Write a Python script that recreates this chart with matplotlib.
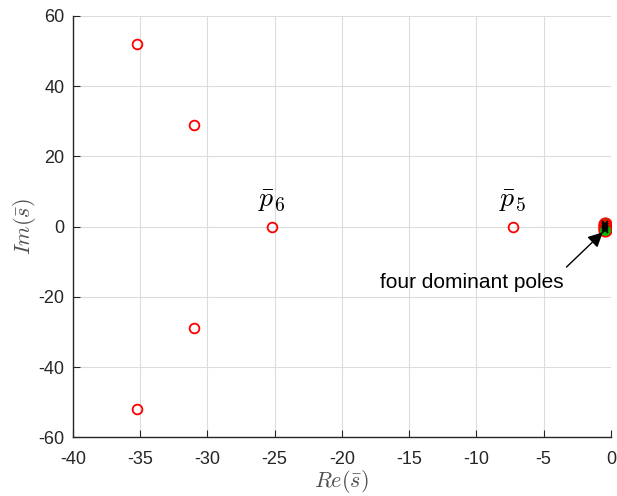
import numpy as np
import matplotlib
matplotlib.use('Agg')
import matplotlib.pyplot as plt

################################## DATA ##################################

# other (non-dominant) poles
pole_re = [-35.2, -31.0, -25.2, -7.3, -31.0, -35.2]
pole_im = [52.0, 28.8, 0.0, 0.0, -28.8, -52.0]

# four dominant poles clustered near the origin
dom_re = [-0.45, -0.45, -0.45, -0.45]
dom_im = [0.9, 0.3, -0.3, -0.9]

# labelled poles
lab_text = [r'$\bar{p}_6$', r'$\bar{p}_5$']
lab_re = [-25.2, -7.3]
lab_im = [0.0, 0.0]

################################## PLOT ##################################

plt.rcParams['font.family'] = ['Liberation Sans', 'DejaVu Sans']
plt.rcParams['mathtext.fontset'] = 'cm'
plt.rcParams['axes.unicode_minus'] = False

fig = plt.figure(figsize=(6.17, 4.96), dpi=100)
ax = fig.add_axes([0.118, 0.118, 0.872, 0.85])

ax.plot(pole_re, pole_im, 'o', mfc='none', mec='red', ms=7, mew=1.3,
        linestyle='none')
ax.plot(dom_re, dom_im, 'o', mfc='#00c000', mec='red', ms=9, mew=1.2,
        linestyle='none')
ax.plot(dom_re, dom_im, 'x', color='black', ms=5, mew=1.2, linestyle='none')

for t, xr, yi in zip(lab_text, lab_re, lab_im):
    ax.text(xr, yi + 3.5, t, fontsize=20, ha='center', va='bottom')

# text and arrow
ax.text(-10.3, -16, 'four dominant poles', ha='center', va='center',
        fontsize=15)
ax.annotate('', xy=(-0.6, -1.6), xytext=(-3.3, -11.5),
            arrowprops=dict(arrowstyle='-|>', color='black', lw=1.0,
                            shrinkA=0, shrinkB=0, mutation_scale=22))

ax.set_xlim(-40, 0)
ax.set_ylim(-60, 60)
ax.set_xticks(np.arange(-40, 1, 5))
ax.set_yticks(np.arange(-60, 61, 20))
ax.grid(True, color='#dcdcdc', linewidth=0.8)
ax.set_axisbelow(True)

for s in ['top', 'right']:
    ax.spines[s].set_visible(False)
for s in ['left', 'bottom']:
    ax.spines[s].set_color('#262626')
    ax.spines[s].set_linewidth(1.0)

ax.tick_params(direction='in', length=5, labelsize=13, colors='#262626')
ax.tick_params(axis='x', pad=10)
ax.tick_params(axis='y', pad=6)
ax.set_xlabel(r'$Re(\bar{s})$', fontsize=16, color='#505050', labelpad=0)
ax.set_ylabel(r'$Im(\bar{s})$', fontsize=16, color='#505050', labelpad=0)

plt.savefig('out.png', dpi=100)
